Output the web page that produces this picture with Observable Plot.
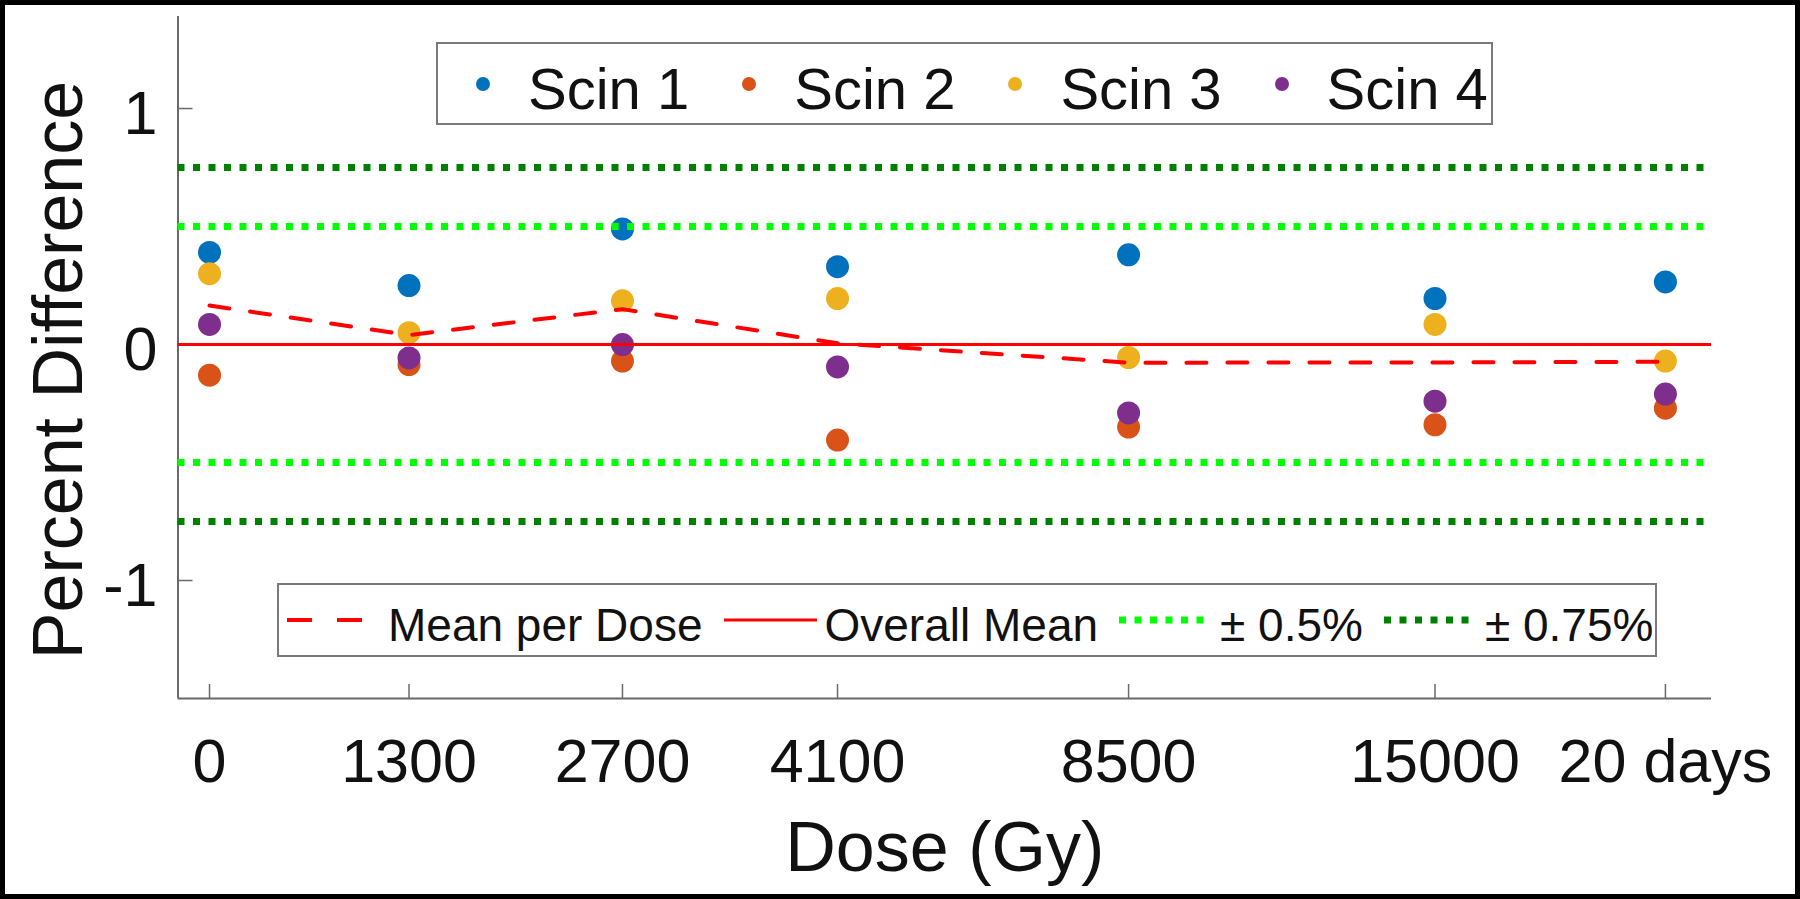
<!DOCTYPE html>
<html>
<head>
<meta charset="utf-8">
<script src="https://cdn.jsdelivr.net/npm/d3@7"></script>
<script src="https://cdn.jsdelivr.net/npm/@observablehq/plot@0.6"></script>
<style>
  html, body { margin: 0; padding: 0; background: #fff; }
  #wrap { position: relative; width: 1800px; height: 899px; overflow: hidden; background: #fff;
          font-family: "Liberation Sans", Arial, Helvetica, sans-serif; color: #111; }
  #chart svg { display: block; }
  .legend { position: absolute; box-sizing: border-box; border: 2px solid #7a7a7a; background: #fff;
            display: flex; align-items: center; white-space: nowrap; color: #111; }
  .legend svg { flex: none; display: block; }
  .legend .lbl { position: relative; flex: none; }
  #legTop { left: 436px; top: 42px; width: 1057px; height: 83px; padding-left: 38px; font-size: 58px; }
  #legTop .lbl { top: 5px; }
  #legBot { left: 277px; top: 583px; width: 1380px; height: 74px; padding-left: 8px; font-size: 46px; }
  #legBot .lbl { top: 5px; }
  #ytitle { position: absolute; left: 57.7px; top: 370px; transform: translate(-50%, -50%) rotate(-90deg);
            font-size: 70px; line-height: 70px; white-space: nowrap; color: #111; }
  #frame { position: absolute; left: 0; top: 0; width: 1800px; height: 899px; box-sizing: border-box;
           border: 5px solid #000; pointer-events: none; }
</style>
</head>
<body>
<div id="wrap">
  <div id="chart"></div>
  <div id="ytitle"></div>
  <div id="legTop" class="legend"></div>
  <div id="legBot" class="legend"></div>
  <div id="frame"></div>
</div>
<script>
// ---------- data ----------
const doseLabels   = ["0", "1300", "2700", "4100", "8500", "15000", "20 days"];
const doseAxisPos  = [0, 1, 2.07, 3.148, 4.607, 6.143, 7.298];   // x positions used in the original figure
const seriesNames  = ["Scin 1", "Scin 2", "Scin 3", "Scin 4"];
const seriesColors = ["#0072BD", "#D95319", "#EDB120", "#7E2F8E"];

const scin1 = [0.39, 0.25, 0.49, 0.33, 0.38, 0.195, 0.265];
const scin2 = [-0.13, -0.085, -0.07, -0.405, -0.35, -0.34, -0.27];
const scin3 = [0.30, 0.05, 0.185, 0.195, -0.055, 0.085, -0.07];
const scin4 = [0.085, -0.057, 0.0, -0.095, -0.29, -0.24, -0.21];

const meanPerDose = [0.165, 0.04, 0.15, 0.005, -0.077, -0.076, -0.073];
const overallMean = [0];
const band05  = [0.5, -0.5];
const band075 = [0.75, -0.75];

const refNames   = ["Mean per Dose", "Overall Mean", "\u00B1 0.5%", "\u00B1 0.75%"];
const yTicks     = [-1, 0, 1];
const yTickLabels = ["-1", "0", "1"];
const xTitle     = "Dose (Gy)";
const yTitle     = "Percent Difference";
const xDomain    = [-0.158, 7.529];
const yDomain    = [-1.5, 1.39];

// ---------- tables ----------
const seriesValues = [scin1, scin2, scin3, scin4];
const points = seriesNames.flatMap((name, s) =>
  seriesValues[s].map((v, i) => ({series: name, dose: doseLabels[i], x: doseAxisPos[i], y: v})));
const meanRows = meanPerDose.map((v, i) => ({x: doseAxisPos[i], y: v}));

const RED = "#FF0000", LIME = "#00FF00", DKGREEN = "#008000", AXIS = "#6a6a6a", INK = "#111";
const lineStyles = [
  {stroke: RED, width: 4, dash: "20,21"},
  {stroke: RED, width: 3, dash: null},
  {stroke: LIME, width: 7, dash: "7,8.5"},
  {stroke: DKGREEN, width: 7, dash: "7,8.5"}
];

const chart = Plot.plot({
  width: 1800,
  height: 899,
  marginLeft: 177.5,
  marginRight: 89,
  marginTop: 16,
  marginBottom: 201,
  style: {fontFamily: '"Liberation Sans", Arial, Helvetica, sans-serif', fontSize: "61px", color: INK, background: "white", overflow: "visible"},
  x: {domain: xDomain, axis: null},
  y: {domain: yDomain, axis: null},
  color: {domain: seriesNames, range: seriesColors},
  marks: [
    // axis lines
    Plot.ruleX([xDomain[0]], {stroke: AXIS, strokeWidth: 2}),
    Plot.ruleY([yDomain[0]], {stroke: AXIS, strokeWidth: 2}),
    // ticks (inward)
    Plot.axisY({ticks: yTicks, tickSize: -15, fill: "none", stroke: AXIS, strokeWidth: 1.5, label: null}),
    Plot.axisX({ticks: doseAxisPos, tickSize: -14, fill: "none", stroke: AXIS, strokeWidth: 1.5, label: null}),
    // tick labels
    Plot.axisY({ticks: yTicks, tickSize: 0, tickPadding: 20.5, dy: 6, fill: INK, fontSize: 61, label: null,
                tickFormat: d => yTickLabels[yTicks.indexOf(d)]}),
    Plot.axisX({ticks: doseAxisPos, tickSize: 0, tickPadding: 40.5, fill: INK, fontSize: 61, label: null,
                tickFormat: d => doseLabels[doseAxisPos.indexOf(d)]}),
    // x axis title
    Plot.text([xTitle], {frameAnchor: "bottom", text: d => d, lineAnchor: "bottom", dy: 172, fontSize: 70, fill: INK}),
    // data points
    Plot.dot(points, {x: "x", y: "y", fill: "series", r: 11.5, stroke: null}),
    // reference lines
    Plot.line(meanRows, {x: "x", y: "y", stroke: lineStyles[0].stroke, strokeWidth: lineStyles[0].width, strokeDasharray: lineStyles[0].dash}),
    Plot.ruleY(overallMean, {stroke: lineStyles[1].stroke, strokeWidth: lineStyles[1].width}),
    Plot.ruleY(band05, {stroke: lineStyles[2].stroke, strokeWidth: lineStyles[2].width, strokeDasharray: lineStyles[2].dash}),
    Plot.ruleY(band075, {stroke: lineStyles[3].stroke, strokeWidth: lineStyles[3].width, strokeDasharray: lineStyles[3].dash})
  ]
});
document.getElementById("chart").appendChild(chart);
document.getElementById("ytitle").textContent = yTitle;

// ---------- legends ----------
const svgNS = "http://www.w3.org/2000/svg";
const legTop = document.getElementById("legTop");
seriesNames.forEach((name, i) => {
  const s = document.createElementNS(svgNS, "svg");
  s.setAttribute("width", 14); s.setAttribute("height", 14);
  s.style.marginRight = "38px";
  const c = document.createElementNS(svgNS, "circle");
  c.setAttribute("cx", 7); c.setAttribute("cy", 7); c.setAttribute("r", 7);
  c.setAttribute("fill", seriesColors[i]);
  s.appendChild(c);
  const t = document.createElement("span");
  t.className = "lbl"; t.textContent = name;
  if (i < seriesNames.length - 1) t.style.marginRight = "53px";
  legTop.appendChild(s); legTop.appendChild(t);
});

const legBot = document.getElementById("legBot");
refNames.forEach((name, i) => {
  const st = lineStyles[i];
  const s = document.createElementNS(svgNS, "svg");
  s.setAttribute("width", 93); s.setAttribute("height", 10);
  s.style.marginRight = "8px";
  const l = document.createElementNS(svgNS, "line");
  l.setAttribute("x1", 0); l.setAttribute("x2", 93); l.setAttribute("y1", 5); l.setAttribute("y2", 5);
  l.setAttribute("stroke", st.stroke); l.setAttribute("stroke-width", st.width);
  if (st.dash) l.setAttribute("stroke-dasharray", i === 0 ? "25,25" : st.dash);
  s.appendChild(l);
  const t = document.createElement("span");
  t.className = "lbl"; t.textContent = name;
  if (i < refNames.length - 1) t.style.marginRight = "21px";
  legBot.appendChild(s); legBot.appendChild(t);
});
</script>
</body>
</html>
